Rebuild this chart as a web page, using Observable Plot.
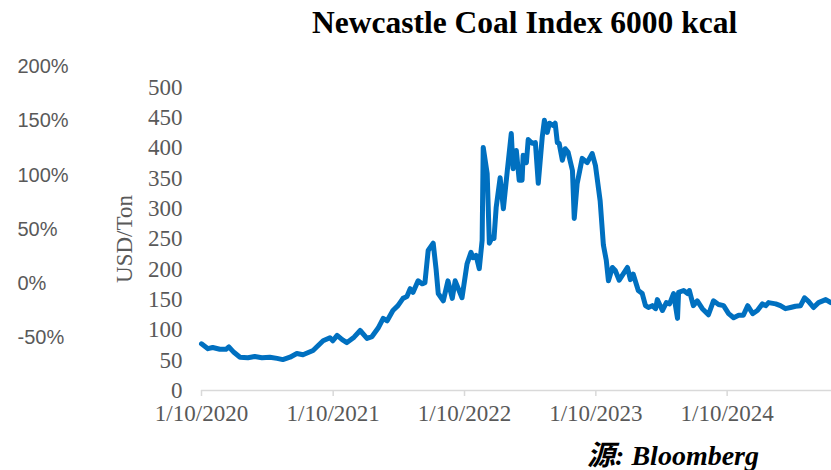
<!DOCTYPE html>
<html>
<head>
<meta charset="utf-8">
<script src="https://cdn.jsdelivr.net/npm/d3@7"></script>
<script src="https://cdn.jsdelivr.net/npm/@observablehq/plot@0.6"></script>
<style>
  html, body { margin: 0; padding: 0; background: #fff; }
  #wrap { position: relative; width: 831px; height: 470px; overflow: hidden; }
  #title { position: absolute; left: 312px; top: 7px; line-height: 1; font-family: "Liberation Serif", serif; font-weight: bold; font-size: 31.5px; color: #000; white-space: nowrap; }
  #source { position: absolute; right: 72px; top: 442px; line-height: 1; font-family: "Liberation Serif", "Noto Sans CJK SC", serif; font-weight: bold; font-style: italic; font-size: 28px; color: #000; white-space: nowrap; }
</style>
</head>
<body>
<div id="wrap">
  <div id="chart"></div>
  <div id="title">Newcastle Coal Index 6000 kcal</div>
  <div id="source">源: Bloomberg</div>
</div>
<script>
const dates = [
  "2020-01-10","2020-01-28","2020-02-10","2020-03-01","2020-03-18","2020-03-26","2020-04-09","2020-04-26",
  "2020-05-18","2020-06-06","2020-06-26","2020-07-18","2020-08-07","2020-08-23","2020-09-12","2020-10-01",
  "2020-10-18","2020-11-15","2020-12-13","2021-01-01","2021-01-09","2021-01-21","2021-02-04","2021-02-17",
  "2021-03-09","2021-03-26","2021-04-14","2021-04-28","2021-05-15","2021-05-29","2021-06-09","2021-06-25",
  "2021-07-09","2021-07-23","2021-08-03","2021-08-12","2021-08-20","2021-09-03","2021-09-14","2021-09-22",
  "2021-10-01","2021-10-15","2021-10-23","2021-10-29","2021-11-12","2021-11-25","2021-12-07","2021-12-15",
  "2022-01-03","2022-01-17","2022-01-28","2022-02-03","2022-02-11","2022-02-20","2022-02-28","2022-03-03",
  "2022-03-14","2022-03-20","2022-03-28","2022-04-02","2022-04-08","2022-04-19","2022-04-28","2022-05-09",
  "2022-05-20","2022-05-25","2022-06-03","2022-06-11","2022-06-19","2022-06-22","2022-07-01","2022-07-06",
  "2022-07-17","2022-07-26","2022-08-03","2022-08-14","2022-08-20","2022-08-28","2022-09-03","2022-09-14",
  "2022-09-19","2022-09-25","2022-09-30","2022-10-09","2022-10-17","2022-10-25","2022-11-06","2022-11-11",
  "2022-11-19","2022-12-03","2022-12-17","2022-12-31","2023-01-09","2023-01-22","2023-01-31","2023-02-08",
  "2023-02-14","2023-02-25","2023-03-05","2023-03-16","2023-04-08","2023-04-16","2023-04-24","2023-05-08",
  "2023-05-19","2023-05-28","2023-06-05","2023-06-16","2023-06-25","2023-06-30","2023-07-14","2023-07-25",
  "2023-08-03","2023-08-14","2023-08-25","2023-08-28","2023-09-11","2023-09-22","2023-09-27","2023-10-08",
  "2023-10-19","2023-11-02","2023-11-19","2023-12-03","2023-12-17","2023-12-31","2024-01-14","2024-01-28",
  "2024-02-11","2024-02-24","2024-03-07","2024-03-21","2024-04-03","2024-04-17","2024-04-26","2024-05-04",
  "2024-05-24","2024-06-06","2024-06-20","2024-07-04","2024-07-18","2024-08-01","2024-08-12","2024-08-23",
  "2024-09-06","2024-09-20","2024-10-10","2024-10-24"
];
const prices = [
  77,69,71,68,68,72,63,55,
  54,56,54,55,53,51,55,61,
  59,66,82,87,82,91,84,79,
  88,99,86,89,103,119,115,132,
  140,152,155,168,162,181,176,178,
  231,243,200,160,148,181,152,181,
  153,209,228,219,223,201,248,401,
  358,243,253,251,302,351,300,363,
  424,366,396,347,347,388,376,414,
  408,409,342,418,446,426,441,437,
  441,409,408,380,399,393,363,284,
  341,383,376,391,371,313,240,215,
  181,203,198,182,203,183,192,165,
  160,140,137,140,135,150,132,145,
  143,160,119,162,165,160,165,140,
  148,135,125,148,142,140,127,120,
  124,124,140,127,132,143,140,145,
  143,140,135,137,139,140,153,147,
  137,145,150,145
];
const yTicks = [0, 50, 100, 150, 200, 250, 300, 350, 400, 450, 500];
const xTickDates = ["2020-01-10", "2021-01-10", "2022-01-10", "2023-01-10", "2024-01-10"];
const pctLabels = [200, 150, 100, 50, 0, -50];
const pctZeroUsd = 176.6;   // USD level where the 0% label sits
const pctUsdPer1 = 1.788;   // USD per 1% on the percent scale
const xStart = "2020-01-10";
const xEnd = "2024-10-26";

const parse = d3.utcParse("%Y-%m-%d");
const data = dates.map((d, i) => ({date: parse(d), price: prices[i]}));
const xt = xTickDates.map(parse);
const fmt = d3.utcFormat("%-m/%-d/%Y");

const chart = Plot.plot({
  width: 831,
  height: 470,
  marginLeft: 201,
  marginRight: 0,
  marginTop: 87,
  marginBottom: 80,
  style: {fontFamily: "'Liberation Serif', serif", background: "#fff", overflow: "visible"},
  x: {type: "utc", domain: [parse(xStart), parse(xEnd)]},
  y: {domain: [0, 500]},
  marks: [
    Plot.axisY({ticks: yTicks, tickSize: 0, tickPadding: 19, color: "#595959", fontSize: 23,
      label: "USD/Ton", labelAnchor: "center", labelOffset: 86, labelArrow: "none"}),
    Plot.text(pctLabels, {y: d => pctZeroUsd + d * pctUsdPer1, text: d => d + "%", frameAnchor: "left",
      dx: -184, textAnchor: "start", fill: "#595959", fontSize: 20, fontFamily: "'Liberation Sans', sans-serif"}),
    Plot.ruleY([0], {stroke: "#d9d9d9", strokeWidth: 1.5}),
    Plot.axisX({ticks: xt, tickSize: 6, stroke: "#d9d9d9", strokeWidth: 1.5, text: null, label: null}),
    Plot.axisX({ticks: xt, tickSize: 0, tickPadding: 14, tickFormat: fmt, color: "#595959", fontSize: 23, label: null}),
    Plot.line(data, {x: "date", y: "price", stroke: "#0070C0", strokeWidth: 5, strokeLinejoin: "round", strokeLinecap: "round"})
  ]
});
document.getElementById("chart").appendChild(chart);
</script>
</body>
</html>
